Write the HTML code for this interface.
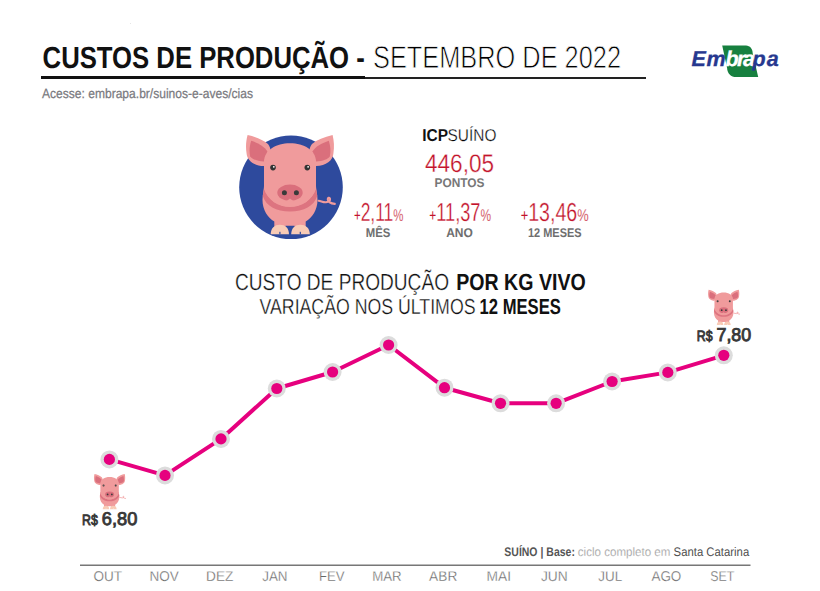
<!DOCTYPE html>
<html><head><meta charset="utf-8">
<style>
html,body{margin:0;padding:0;background:#fff;width:820px;height:591px;overflow:hidden}
svg{display:block}
text{font-family:"Liberation Sans",sans-serif;text-rendering:geometricPrecision}
.b{font-weight:bold}
.lt{stroke:#fff;stroke-width:0.8px}
.lt2{stroke:#fff;stroke-width:0.5px}
.lt3{stroke:#fff;stroke-width:0.3px}
</style></head><body>
<svg width="820" height="591" viewBox="0 0 820 591">
<defs>
<g id="pig">
  <!-- ears -->
  <path d="M247.6,135.1 C256,137 263,140 268,144 C271,148 271,152 269.5,156 L263.9,166 C254,166 247,160 246.6,153.4 C245.5,147 246,141 247.6,135.1 Z" fill="#f09b9c"/>
  <path d="M251.2,140.7 C258,143 264,146 267.4,151.3 C267,155 265.5,158.5 263.9,161.5 C257,161 252,159 250.2,156.4 C249,151 249.5,146 251.2,140.7 Z" fill="#da6f7c"/>
  <path d="M332.6,135.1 C324,137 317,140 312,144 C309,148 309,152 310.5,156 L316.1,166 C326,166 333,160 333.4,153.4 C334.5,147 334,141 332.6,135.1 Z" fill="#f09b9c"/>
  <path d="M328.8,140.7 C322,143 316,146 312.6,151.3 C313,155 314.5,158.5 316.1,161.5 C323,161 328,159 329.8,156.4 C331,151 330.5,146 328.8,140.7 Z" fill="#da6f7c"/>
  <!-- tail -->
  <path d="M318.6,200.8 C321,201 323,202.5 326,202.3 C329,202 330.5,200.5 330,198.8 C329.5,197 327.5,197.5 327.8,199.5 C328.2,202 331,203.5 334.8,203.9" fill="none" stroke="#f09b9c" stroke-width="2.1" stroke-linecap="round"/>
  <!-- legs & body -->
  <path d="M274.3,231 L274.3,221.6 C268,218 262.5,210 262.5,200 C262.5,194 264,190 264,186 L316,186 C316,190 317.5,194 317.5,200 C317.5,210 312,218 305.7,221.6 L305.7,231 L294.6,231 L294.6,225.7 L285.5,225.7 L285.5,231 Z" fill="#f09b9c"/>
  <!-- neck band -->
  <path d="M262.8,196 C266,206 276,211.5 290,211.5 C304,211.5 314,206 317.2,196 L316,188 C312,200.5 302,207 290,207 C278,207 268,200.5 264,188 Z" fill="#dd7480"/>
  <!-- head -->
  <path d="M264,189 L264,162 C264,150 276,143.2 290,143.2 C304,143.2 316,150 316,162 L316,189 C312,200 302,206.5 290,206.5 C278,206.5 268,200 264,189 Z" fill="#f09b9c"/>
  <!-- gap between legs -->
  
  <!-- hooves -->
  <path d="M270.7,234.3 C270.7,228 274.5,224.7 279.9,224.7 C285.3,224.7 289,228 289,234.3 Z" fill="#f8cbb6"/>
  <path d="M291.2,234.3 C291.2,228 295,224.7 300.4,224.7 C305.8,224.7 309.8,228 309.8,234.3 Z" fill="#f8cbb6"/>
  <rect x="279.3" y="231.8" width="1.2" height="2.5" fill="currentColor"/>
  <rect x="299.7" y="231.8" width="1.2" height="2.5" fill="currentColor"/>
  <!-- snout -->
  <ellipse cx="290" cy="192.7" rx="12.7" ry="8.1" fill="#da6f7c"/>
  <path d="M286.5,201.2 L290,198.6 L293.5,201.2 Z" fill="#f09b9c"/>
  <circle cx="284.4" cy="192.7" r="2.5" fill="#3a3a3a"/>
  <circle cx="296.4" cy="192.7" r="2.5" fill="#3a3a3a"/>
  <!-- eyes -->
  <circle cx="273" cy="167.6" r="2.8" fill="#333"/>
  <circle cx="307.3" cy="167.6" r="2.8" fill="#333"/>
  <circle cx="273.8" cy="166.8" r="0.9" fill="#fff"/>
  <circle cx="308.1" cy="166.8" r="0.9" fill="#fff"/>
</g>
</defs>

<!-- Title -->
<rect x="130" y="23" width="1" height="1" fill="#e6e6e6"/>
<text x="42.6" y="67.8" font-size="30.5" class="b" fill="#111" textLength="322.2" lengthAdjust="spacingAndGlyphs">CUSTOS DE PRODUÇÃO -</text>
<text x="373" y="68.2" font-size="31.4" fill="#000" class="lt" textLength="248" lengthAdjust="spacingAndGlyphs">SETEMBRO DE 2022</text>
<rect x="41" y="76" width="324" height="3" fill="#111"/>
<rect x="365" y="77" width="281" height="2" fill="#222"/>
<text x="42" y="97.8" font-size="13.4" fill="#7a7a80" stroke="#7a7a80" stroke-width="0.25" textLength="211" lengthAdjust="spacingAndGlyphs">Acesse: embrapa.br/suinos-e-aves/cias</text>

<!-- Embrapa logo -->
<path d="M722.2,45.4 L746,45.4 C750,45.4 752.7,49 752.7,53.3 L758.2,77.1 L736.2,77.1 C731,77.1 727.1,73 727.1,67.9 Z" fill="#17803f"/>
<text y="66.4" font-size="21.5" font-weight="bold" font-style="italic" fill="#27388f" stroke="#27388f" stroke-width="0.3"><tspan x="691.5">E</tspan><tspan x="706.5">m</tspan><tspan x="725.5" fill="#fff" stroke="#fff">b</tspan><tspan x="737" fill="#fff" stroke="#fff">r</tspan><tspan x="743" fill="#fff" stroke="#fff">a</tspan><tspan x="752.5">p</tspan><tspan x="766.8">a</tspan></text>

<!-- Big pig -->
<circle cx="291" cy="187.3" r="51.8" fill="#2e4a9d"/>
<use href="#pig" color="#2e4a9d"/>

<!-- ICP -->
<text x="422.3" y="141" font-size="17.2" fill="#111" class="b" textLength="25.8" lengthAdjust="spacingAndGlyphs">ICP</text><text x="447.6" y="141" font-size="17.2" fill="#000" class="lt3" textLength="48.8" lengthAdjust="spacingAndGlyphs">SUÍNO</text>
<text x="425" y="171.8" font-size="25.4" fill="#c3132b" class="lt3" textLength="69" lengthAdjust="spacingAndGlyphs">446,05</text>
<text x="434.5" y="187.3" font-size="12.6" class="b" fill="#777" textLength="50" lengthAdjust="spacingAndGlyphs">PONTOS</text>

<text x="354" y="221.4" fill="#c3132b" textLength="49.5" lengthAdjust="spacingAndGlyphs"><tspan font-size="17">+</tspan><tspan font-size="26" class="lt3">2,11</tspan><tspan font-size="17" class="lt3">%</tspan></text>
<text x="365.8" y="236.6" font-size="12.7" class="b" fill="#6e6e6e" textLength="24.6" lengthAdjust="spacingAndGlyphs">MÊS</text>
<text x="429.3" y="221.4" fill="#c3132b" textLength="61.8" lengthAdjust="spacingAndGlyphs"><tspan font-size="17">+</tspan><tspan font-size="26" class="lt3">11,37</tspan><tspan font-size="17" class="lt3">%</tspan></text>
<text x="446.2" y="236.7" font-size="12.7" class="b" fill="#6e6e6e" textLength="26.7" lengthAdjust="spacingAndGlyphs">ANO</text>
<text x="520.7" y="221.4" fill="#c3132b" textLength="68" lengthAdjust="spacingAndGlyphs"><tspan font-size="17">+</tspan><tspan font-size="26" class="lt3">13,46</tspan><tspan font-size="17" class="lt3">%</tspan></text>
<text x="528" y="236.7" font-size="12.7" class="b" fill="#6e6e6e" textLength="53.6" lengthAdjust="spacingAndGlyphs">12 MESES</text>

<!-- chart title -->
<text x="235" y="290" font-size="23.4" fill="#111" class="lt3" textLength="214" lengthAdjust="spacingAndGlyphs">CUSTO DE PRODUÇÃO</text>
<text x="456.2" y="290" font-size="23.4" fill="#111" class="b" textLength="129.5" lengthAdjust="spacingAndGlyphs">POR KG VIVO</text>
<text x="259.5" y="314.2" font-size="21.7" fill="#111" class="lt3" textLength="216" lengthAdjust="spacingAndGlyphs">VARIAÇÃO NOS ÚLTIMOS</text>
<text x="479.6" y="314.2" font-size="21.7" fill="#111" class="b" textLength="81.2" lengthAdjust="spacingAndGlyphs">12 MESES</text>

<!-- chart line -->
<polyline points="109.4,459.4 165.0,475.4 221.0,438.9 276.8,388.5 332.6,372.0 388.6,345.0 444.5,387.7 500.5,403.3 556.1,403.3 612.1,381.5 667.8,372.4 723.8,355.3" fill="none" stroke="#e6007e" stroke-width="4" stroke-linejoin="round"/>
<g fill="#dcdcdc"><circle cx="109.4" cy="459.4" r="9"/><circle cx="165.0" cy="475.4" r="9"/><circle cx="221.0" cy="438.9" r="9"/><circle cx="276.8" cy="388.5" r="9"/><circle cx="332.6" cy="372.0" r="9"/><circle cx="388.6" cy="345.0" r="9"/><circle cx="444.5" cy="387.7" r="9"/><circle cx="500.5" cy="403.3" r="9"/><circle cx="556.1" cy="403.3" r="9"/><circle cx="612.1" cy="381.5" r="9"/><circle cx="667.8" cy="372.4" r="9"/><circle cx="723.8" cy="355.3" r="9"/></g>
<g fill="#e6007e"><circle cx="109.4" cy="459.4" r="5.6"/><circle cx="165.0" cy="475.4" r="5.6"/><circle cx="221.0" cy="438.9" r="5.6"/><circle cx="276.8" cy="388.5" r="5.6"/><circle cx="332.6" cy="372.0" r="5.6"/><circle cx="388.6" cy="345.0" r="5.6"/><circle cx="444.5" cy="387.7" r="5.6"/><circle cx="500.5" cy="403.3" r="5.6"/><circle cx="556.1" cy="403.3" r="5.6"/><circle cx="612.1" cy="381.5" r="5.6"/><circle cx="667.8" cy="372.4" r="5.6"/><circle cx="723.8" cy="355.3" r="5.6"/></g>

<!-- small pigs -->
<g transform="translate(109.5,474) scale(0.355) translate(-289.75,-135)"><use href="#pig" color="#fff"/></g>
<g transform="translate(723.6,289.7) scale(0.355) translate(-289.75,-135)"><use href="#pig" color="#fff"/></g>

<text x="82" y="525.3" fill="#383838" stroke="#383838" stroke-width="0.9" font-size="14.8" textLength="15.8" lengthAdjust="spacingAndGlyphs">R$</text><text x="101.8" y="525.3" fill="#383838" stroke="#383838" stroke-width="0.9" font-size="18.5" textLength="35.5" lengthAdjust="spacingAndGlyphs">6,80</text>
<text x="696.8" y="340.6" fill="#383838" stroke="#383838" stroke-width="0.9" font-size="14.8" textLength="15.8" lengthAdjust="spacingAndGlyphs">R$</text><text x="716.5" y="340.6" fill="#383838" stroke="#383838" stroke-width="0.9" font-size="18.5" textLength="34.7" lengthAdjust="spacingAndGlyphs">7,80</text>

<!-- footer -->
<text x="504.3" y="555.5" font-size="12.4" fill="#555" class="b" textLength="70.6" lengthAdjust="spacingAndGlyphs">SUÍNO | Base:</text><text x="577.8" y="555.5" font-size="12.4" fill="#8a8a8a" class="lt3" textLength="92.6" lengthAdjust="spacingAndGlyphs">ciclo completo em</text><text x="673.6" y="555.5" font-size="12.4" fill="#505050" textLength="75.6" lengthAdjust="spacingAndGlyphs">Santa Catarina</text>
<rect x="80" y="564.5" width="670.5" height="1.5" fill="#777"/>
<g font-size="14.2" fill="#666" text-anchor="middle" class="lt3">
<text x="107.7" y="581" textLength="28.6" lengthAdjust="spacingAndGlyphs">OUT</text><text x="164.1" y="581" textLength="29.3" lengthAdjust="spacingAndGlyphs">NOV</text><text x="219.7" y="581" textLength="27.3" lengthAdjust="spacingAndGlyphs">DEZ</text><text x="274.9" y="581" textLength="25.4" lengthAdjust="spacingAndGlyphs">JAN</text><text x="331.7" y="581" textLength="25.6" lengthAdjust="spacingAndGlyphs">FEV</text><text x="386.9" y="581" textLength="29.5" lengthAdjust="spacingAndGlyphs">MAR</text><text x="443.2" y="581" textLength="28.2" lengthAdjust="spacingAndGlyphs">ABR</text><text x="498.8" y="581" textLength="24.5" lengthAdjust="spacingAndGlyphs">MAI</text><text x="554.3" y="581" textLength="26.8" lengthAdjust="spacingAndGlyphs">JUN</text><text x="610.2" y="581" textLength="23.9" lengthAdjust="spacingAndGlyphs">JUL</text><text x="666.4" y="581" textLength="29.9" lengthAdjust="spacingAndGlyphs">AGO</text><text x="722.2" y="581" textLength="24.0" lengthAdjust="spacingAndGlyphs">SET</text>
</g>
</svg>
</body></html>
